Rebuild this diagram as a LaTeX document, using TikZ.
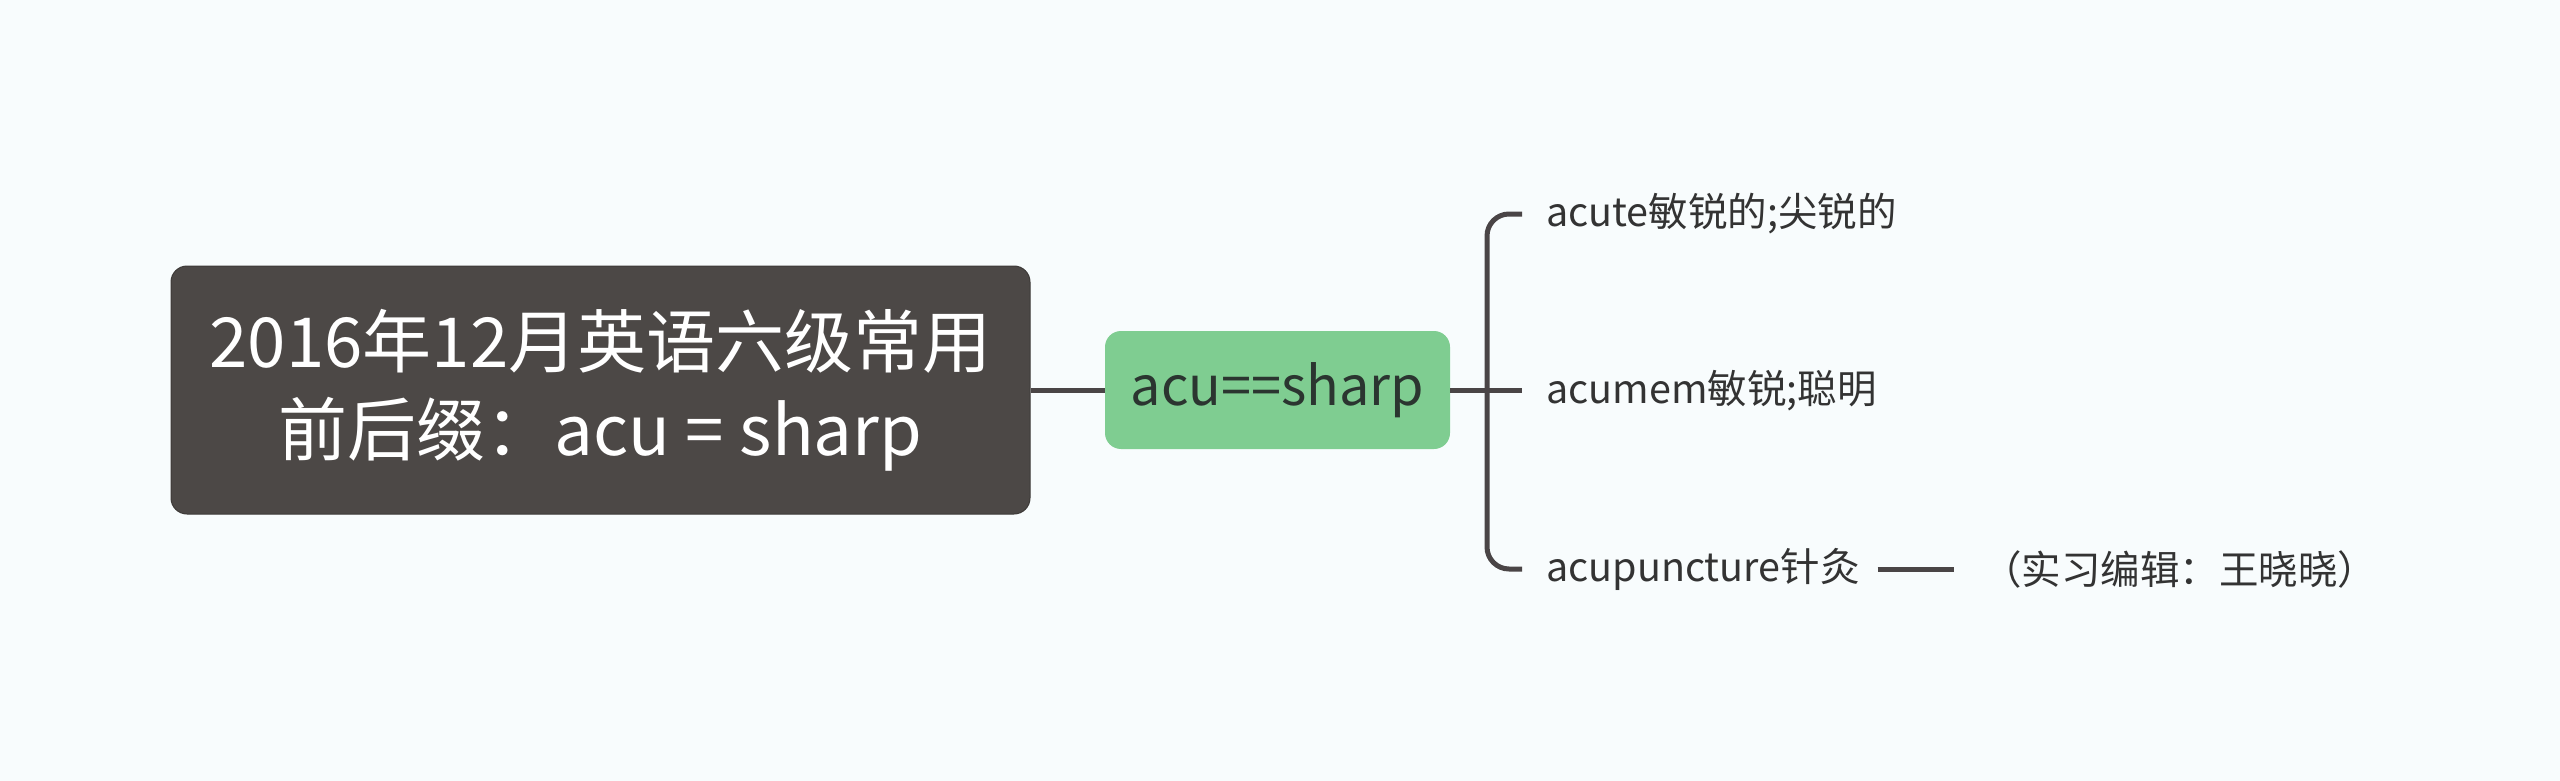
\documentclass[tikz,border=0pt]{standalone}
\usepackage{fontspec}
\setmainfont{Noto Sans CJK SC}
\definecolor{bg}{HTML}{F8FCFD}
\definecolor{rootfill}{HTML}{4C4846}
\definecolor{greenfill}{HTML}{7FCD91}
\definecolor{linec}{HTML}{4A4546}
\definecolor{txt}{HTML}{333333}
\definecolor{gtxt}{HTML}{2B3530}
\begin{document}
\begin{tikzpicture}[x=1pt,y=-1pt,
  rootbox/.style={fill=rootfill, draw=rootfill!80!black, line width=1pt, rounded corners=16pt,
    minimum width=859pt, minimum height=248pt, inner sep=0pt, text=white, align=center,
    font=\fontsize{69}{88}\selectfont},
  greenbox/.style={fill=greenfill, rounded corners=16pt, minimum width=345pt, minimum height=118pt,
    inner sep=0pt, text=gtxt, font=\fontsize{54}{60}\selectfont},
  leaf/.style={anchor=west, inner sep=0pt, text=txt, font=\fontsize{39.5}{46}\selectfont},
  conn/.style={draw=linec, line width=5pt}]
\fill[bg] (0,0) rectangle (2560,781);
\useasboundingbox (0,0) rectangle (2560,781);
\node[rootbox] (root) at (600.5,390) {2016年12月英语六级常用\\前后缀：acu = sharp};
\node[greenbox] (green) at (1277.5,390) {acu==sharp};
\node[leaf] (l1) at (1546,214) {acute敏锐的;尖锐的};
\node[leaf] (l2) at (1546,391) {acumem敏锐;聪明};
\node[leaf] (l3) at (1546,569) {acupuncture针灸};
\node[leaf] (note) at (1982,569) {（实习编辑：王晓晓）};
\coordinate (bx) at (1487,390);
\draw[conn] (root.east) -- (green.west);
\draw[conn] (green.east) -- ([xshift=-24pt]l2.west |- bx);
\draw[conn, rounded corners=22pt] ([xshift=-24pt]l1.west) -| (bx) |- ([xshift=-24pt]l3.west);
\draw[conn] ([xshift=18pt]l3.east) -- ([xshift=-28pt]note.west);
\end{tikzpicture}
\end{document}
